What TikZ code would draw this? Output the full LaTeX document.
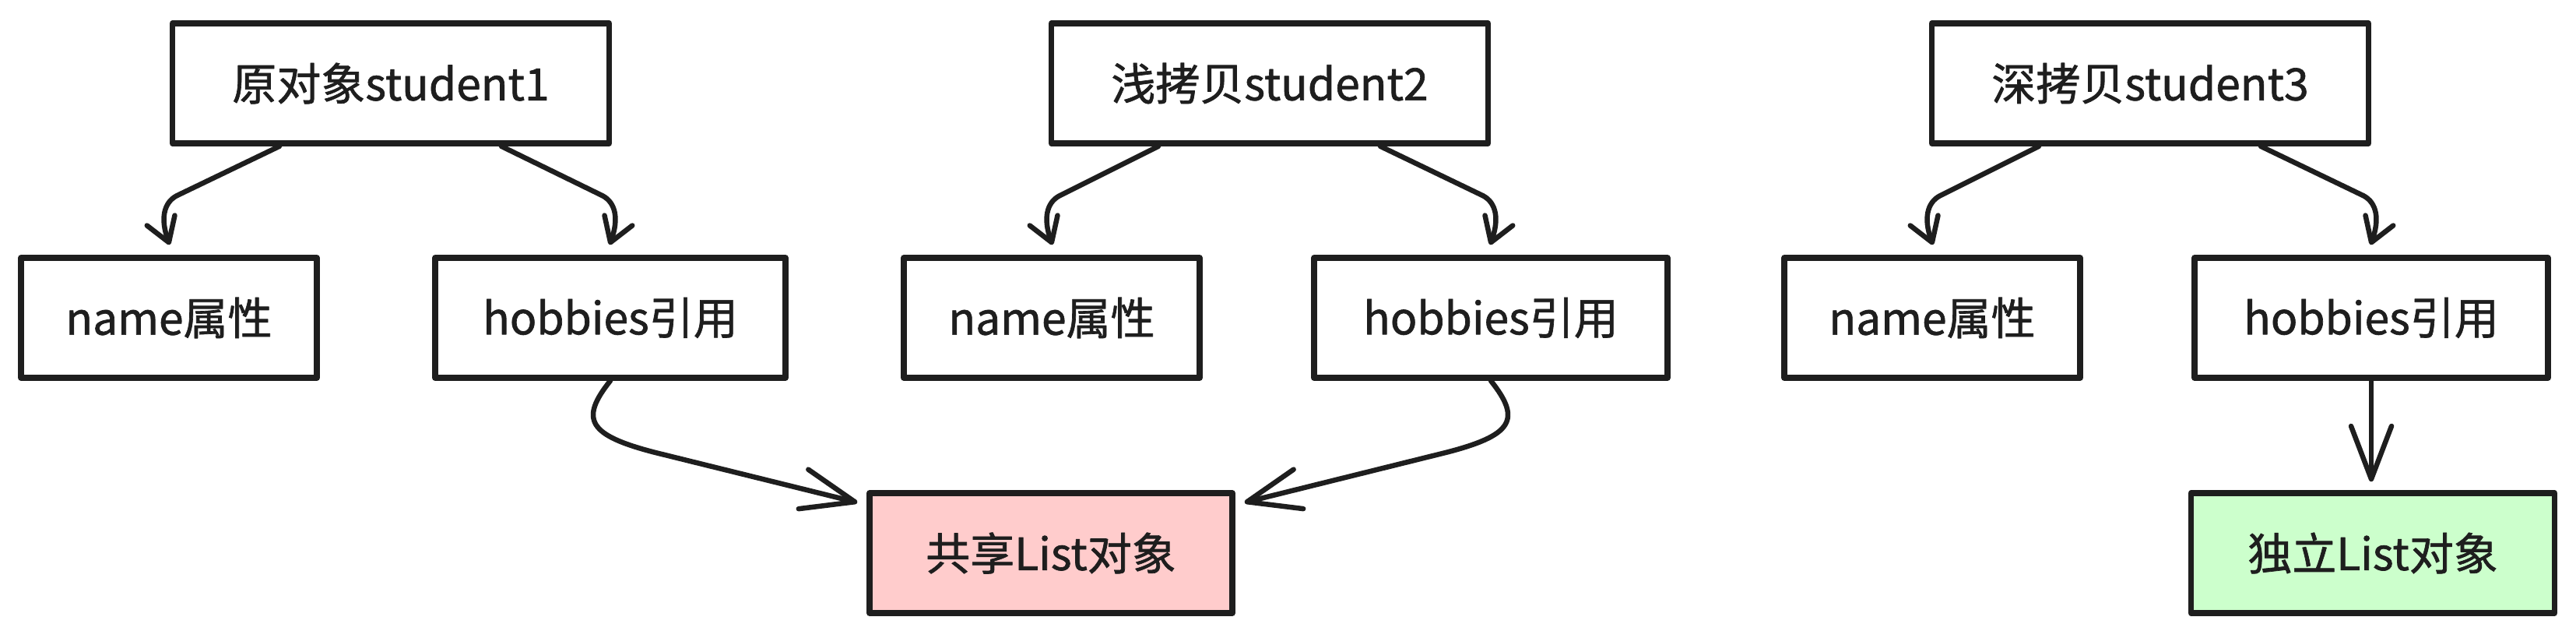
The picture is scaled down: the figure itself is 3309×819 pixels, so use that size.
\documentclass[tikz,border=0pt]{standalone}
\usepackage{fontspec}
\setmainfont{Noto Sans CJK SC}[FakeBold=1.2]
\usetikzlibrary{arrows.meta,calc}
\definecolor{ink}{HTML}{1E1E1E}
\definecolor{pinkfill}{HTML}{FFCCCC}
\definecolor{greenfill}{HTML}{CCFFCC}
\begin{document}
\begin{tikzpicture}[x=1pt,y=-1pt,
  box/.style={draw=ink, line width=7.5pt, line join=round, minimum height=154pt, inner sep=0pt, font=\fontsize{57}{60}\selectfont, text=ink},
  conn/.style={draw=ink, line width=6.5pt, line cap=round, line join=round},
  smallhead/.style={-{Straight Barb[length=30pt,width=38pt,round]}},
  bighead/.style={-{Straight Barb[length=68pt,width=52pt,round]}}]
\fill[white] (0,0) rectangle (3309,819);
\useasboundingbox (0,0) rectangle (3309,819);

\node[box, minimum width=561pt] (s1) at (502,107) {原对象student1};
\node[box, minimum width=561pt] (s2) at (1631,107) {浅拷贝student2};
\node[box, minimum width=561pt] (s3) at (2762,107) {深拷贝student3};
\node[box, minimum width=380pt] (n1) at (217,408) {name属性};
\node[box, minimum width=450pt] (h1) at (784,408) {hobbies引用};
\node[box, minimum width=380pt] (n2) at (1351,408) {name属性};
\node[box, minimum width=454pt] (h2) at (1915,408) {hobbies引用};
\node[box, minimum width=380pt] (n3) at (2482,408) {name属性};
\node[box, minimum width=454pt] (h3) at (3046,408) {hobbies引用};
\node[box, fill=pinkfill, minimum width=466pt] (sh) at (1350,710) {共享List对象};
\node[box, fill=greenfill, minimum width=467pt] (in) at (3048,710) {独立List对象};

% top arrows
\draw[conn, smallhead] ($(s1.south)+(-143,0)$) -- ($(n1.north)+(10,-76)$) .. controls +(-17,9) and +(-12,-33) .. ($(n1.north)+(1,-13)$);
\draw[conn, smallhead] ($(s1.south)+(142,0)$) -- ($(h1.north)+(-10,-76)$) .. controls +(17,9) and +(12,-33) .. ($(h1.north)+(-1,-13)$);
\draw[conn, smallhead] ($(s2.south)+(-143,0)$) -- ($(n2.north)+(10,-76)$) .. controls +(-17,9) and +(-12,-33) .. ($(n2.north)+(1,-13)$);
\draw[conn, smallhead] ($(s2.south)+(142,0)$) -- ($(h2.north)+(-10,-76)$) .. controls +(17,9) and +(12,-33) .. ($(h2.north)+(-1,-13)$);
\draw[conn, smallhead] ($(s3.south)+(-143,0)$) -- ($(n3.north)+(10,-76)$) .. controls +(-17,9) and +(-12,-33) .. ($(n3.north)+(1,-13)$);
\draw[conn, smallhead] ($(s3.south)+(142,0)$) -- ($(h3.north)+(-10,-76)$) .. controls +(17,9) and +(12,-33) .. ($(h3.north)+(-1,-13)$);

% to shared list
\draw[conn, bighead] (h1.south) .. controls +(-40,50) and +(-85,-22) .. ($(h1.south)+(57,92)$) -- ($(sh.west)+(-12,-65)$);
\draw[conn, bighead] (h2.south) .. controls +(40,50) and +(85,-22) .. ($(h2.south)+(-57,92)$) -- ($(sh.east)+(12,-65)$);

% to independent list
\draw[conn, bighead] (h3.south) -- ($(h3.south |- in.north)+(0,-11)$);
\end{tikzpicture}
\end{document}
